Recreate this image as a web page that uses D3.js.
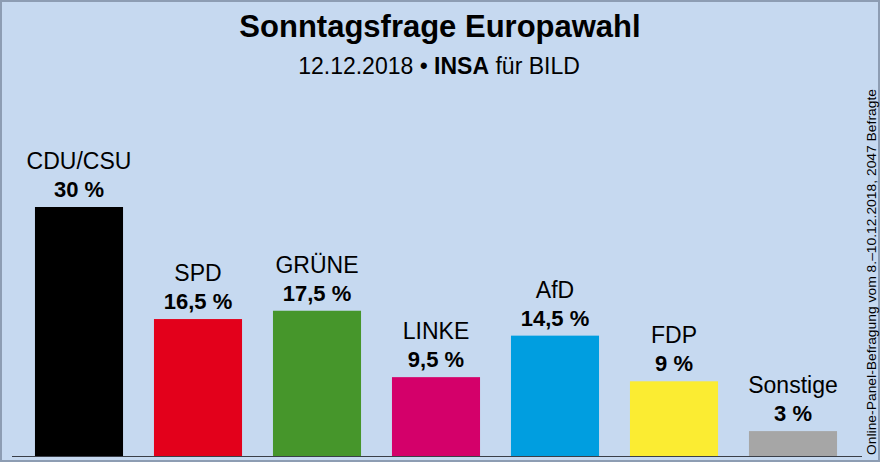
<!DOCTYPE html>
<html>
<head>
<meta charset="utf-8">
<script src="https://cdn.jsdelivr.net/npm/d3@7"></script>
<style>
  html, body { margin: 0; padding: 0; background: #c6d9f0; }
  svg { display: block; font-family: "Liberation Sans", Arial, sans-serif; }
</style>
</head>
<body>
<div id="chart"></div>
<script>
const parties = ['CDU/CSU', 'SPD', 'GRÜNE', 'LINKE', 'AfD', 'FDP', 'Sonstige'];
const values = [30, 16.5, 17.5, 9.5, 14.5, 9, 3];
const partyColors = ['#000000', '#e3001b', '#46962b', '#d4006a', '#009ee0', '#fbec32', '#a6a6a6'];

const width = 880, height = 462;

const svg = d3.select('#chart').append('svg')
    .attr('width', width)
    .attr('height', height);

// background + frame
svg.append('rect')
    .attr('x', 1).attr('y', 1)
    .attr('width', width - 2).attr('height', height - 2)
    .attr('fill', '#c6d9f0')
    .attr('stroke', '#8d9db3')
    .attr('stroke-width', 2);

const x = d3.scaleBand()
    .domain(parties)
    .range([19.5, 852.5])
    .paddingInner(0.26)
    .paddingOuter(0.13);

const y = d3.scaleLinear()
    .domain([0, 30])
    .range([456, 207]);

const fmt = v => String(v).replace('.', ',') + ' %';

// title
svg.append('text')
    .attr('x', 440).attr('y', 37)
    .attr('text-anchor', 'middle')
    .attr('font-size', 31)
    .attr('font-weight', 'bold')
    .text('Sonntagsfrage Europawahl');

const sub = svg.append('text')
    .attr('x', 439).attr('y', 74)
    .attr('text-anchor', 'middle')
    .attr('font-size', 23);
sub.append('tspan').text('12.12.2018 • ');
sub.append('tspan').attr('font-weight', 'bold').text('INSA');
sub.append('tspan').text(' für BILD');

// bars
const data = parties.map((p, i) => ({party: p, value: values[i], color: partyColors[i]}));

svg.append('g').selectAll('rect')
    .data(data)
    .enter()
    .append('rect')
    .attr('x', d => x(d.party))
    .attr('y', d => y(d.value))
    .attr('width', x.bandwidth())
    .attr('height', d => y(0) - y(d.value))
    .attr('fill', d => d.color);

// baseline
svg.append('line')
    .attr('x1', 12).attr('x2', 862)
    .attr('y1', y(0) + 0.5).attr('y2', y(0) + 0.5)
    .attr('stroke', '#3a3f48')
    .attr('stroke-width', 1);

// labels
const labels = svg.append('g').selectAll('g')
    .data(data)
    .enter()
    .append('g');

labels.append('text')
    .attr('x', d => x(d.party) + x.bandwidth() / 2)
    .attr('y', d => y(d.value) - 38)
    .attr('text-anchor', 'middle')
    .attr('font-size', 23)
    .text(d => d.party);

labels.append('text')
    .attr('x', d => x(d.party) + x.bandwidth() / 2)
    .attr('y', d => y(d.value) - 10)
    .attr('text-anchor', 'middle')
    .attr('font-size', 22)
    .attr('font-weight', 'bold')
    .text(d => fmt(d.value));

// source, vertical
svg.append('text')
    .attr('transform', 'translate(876,455) rotate(-90)')
    .attr('font-size', 12.5)
    .attr('textLength', 366)
    .attr('lengthAdjust', 'spacingAndGlyphs')
    .text('Online-Panel-Befragung vom 8.–10.12.2018, 2047 Befragte');
</script>
</body>
</html>
